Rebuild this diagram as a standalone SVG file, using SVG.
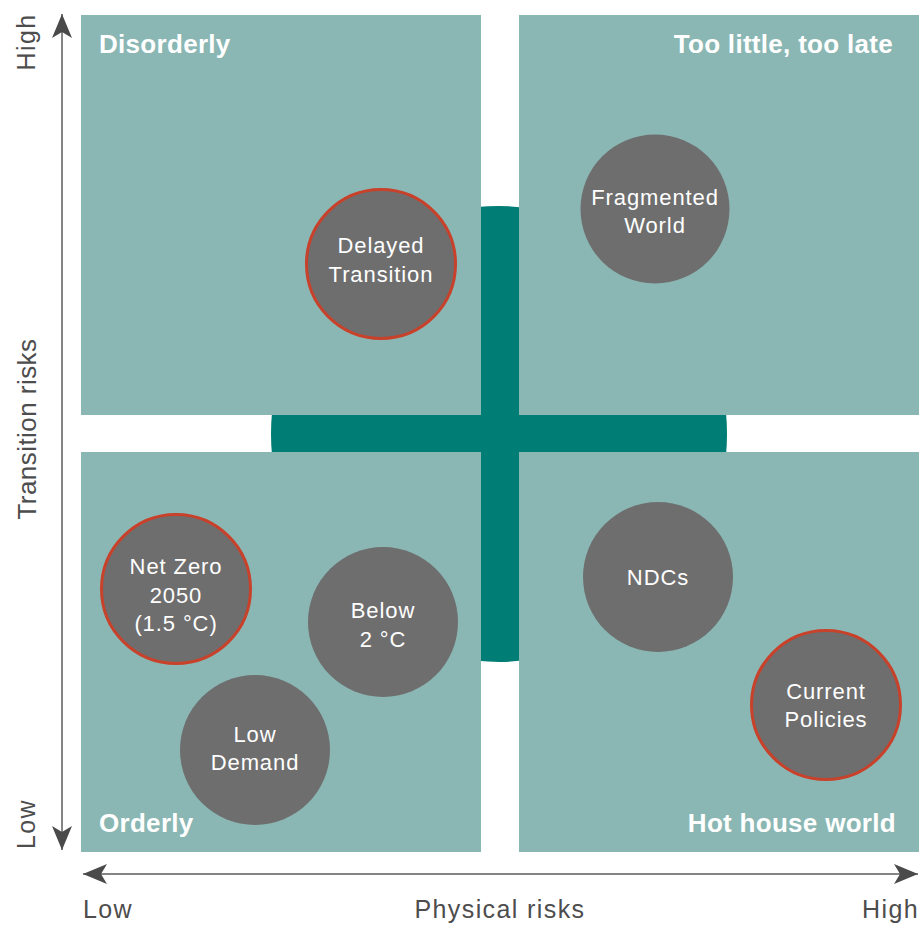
<svg xmlns="http://www.w3.org/2000/svg" width="924" height="925" viewBox="0 0 924 925">
  <style>
    .quad { fill: #8ab7b4; }
    .qlabel { font-family: "Liberation Sans", Arial, sans-serif; font-weight: bold; font-size: 26px; fill: #ffffff; letter-spacing: 0.3px; }
    .bubble { fill: #6e6e6e; }
    .bubble.hl { stroke: #c8412a; stroke-width: 3; }
    .blabel { font-family: "Liberation Sans", Arial, sans-serif; font-size: 22px; fill: #ffffff; text-anchor: middle; letter-spacing: 0.9px; }
    .axis { stroke: #858585; stroke-width: 2; fill: none; marker-start: url(#head); marker-end: url(#head); }
    .alabel { font-family: "Liberation Sans", Arial, sans-serif; font-size: 25px; fill: #4d4d4d; letter-spacing: 1.4px; }
  </style>
  <defs>
    <marker id="head" viewBox="0 0 24 20" refX="24" refY="10" markerWidth="24" markerHeight="20" markerUnits="userSpaceOnUse" orient="auto-start-reverse">
      <path d="M0,0 L24,10 L0,20 L6,10 z" fill="#4a4a4a"/>
    </marker>
    <clipPath id="crossClip">
      <circle cx="499" cy="434" r="228"/>
    </clipPath>
  </defs>

  <rect width="924" height="925" fill="#ffffff"/>

  <!-- central cross, cut to a disc -->
  <g id="cross" clip-path="url(#crossClip)" fill="#007d74">
    <rect x="481" y="190" width="38" height="490"/>
    <rect x="260" y="415" width="480" height="37"/>
  </g>

  <!-- quadrants -->
  <g id="q-disorderly">
    <rect class="quad" x="81" y="15" width="400" height="400"/>
    <text class="qlabel" x="99" y="53">Disorderly</text>
  </g>
  <g id="q-too-little">
    <rect class="quad" x="519" y="15" width="400" height="400"/>
    <text class="qlabel" x="893" y="53" text-anchor="end">Too little, too late</text>
  </g>
  <g id="q-orderly">
    <rect class="quad" x="81" y="452" width="400" height="400"/>
    <text class="qlabel" x="99" y="832">Orderly</text>
  </g>
  <g id="q-hot-house">
    <rect class="quad" x="519" y="452" width="400" height="400"/>
    <text class="qlabel" x="896" y="832" text-anchor="end">Hot house world</text>
  </g>

  <!-- scenarios -->
  <g id="delayed-transition">
    <circle class="bubble hl" cx="381" cy="264" r="74.5"/>
    <text class="blabel" x="381" y="253">Delayed</text>
    <text class="blabel" x="381" y="282">Transition</text>
  </g>
  <g id="fragmented-world">
    <circle class="bubble" cx="655" cy="209" r="74.5"/>
    <text class="blabel" x="655" y="205">Fragmented</text>
    <text class="blabel" x="655" y="233">World</text>
  </g>
  <g id="net-zero-2050">
    <circle class="bubble hl" cx="176" cy="589" r="74.5"/>
    <text class="blabel" x="176" y="574">Net Zero</text>
    <text class="blabel" x="176" y="603">2050</text>
    <text class="blabel" x="176" y="631">(1.5 °C)</text>
  </g>
  <g id="below-2c">
    <circle class="bubble" cx="383" cy="622" r="75"/>
    <text class="blabel" x="383" y="618">Below</text>
    <text class="blabel" x="383" y="647">2 °C</text>
  </g>
  <g id="low-demand">
    <circle class="bubble" cx="255" cy="750" r="75"/>
    <text class="blabel" x="255" y="742">Low</text>
    <text class="blabel" x="255" y="770">Demand</text>
  </g>
  <g id="ndcs">
    <circle class="bubble" cx="658" cy="577" r="75"/>
    <text class="blabel" x="658" y="585">NDCs</text>
  </g>
  <g id="current-policies">
    <circle class="bubble hl" cx="826" cy="705" r="74.5"/>
    <text class="blabel" x="826" y="699">Current</text>
    <text class="blabel" x="826" y="727">Policies</text>
  </g>

  <!-- axes -->
  <g id="axes">
    <line class="axis" x1="62" y1="14" x2="62" y2="850"/>
    <line class="axis" x1="83" y1="874" x2="918" y2="874"/>
  </g>

  <!-- axis labels -->
  <g id="axis-labels">
    <text class="alabel" transform="translate(35,42) rotate(-90)" text-anchor="middle">High</text>
    <text class="alabel" transform="translate(35,824) rotate(-90)" text-anchor="middle">Low</text>
    <text class="alabel" transform="translate(36,429) rotate(-90)" text-anchor="middle" style="font-size:26px;letter-spacing:0.45px">Transition risks</text>
    <text class="alabel" x="83" y="918">Low</text>
    <text class="alabel" x="500" y="918" text-anchor="middle">Physical risks</text>
    <text class="alabel" x="919" y="918" text-anchor="end">High</text>
  </g>
</svg>
